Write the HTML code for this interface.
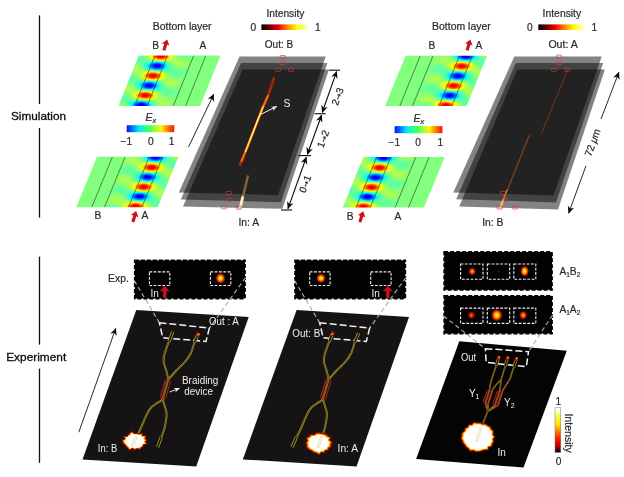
<!DOCTYPE html>
<html><head><meta charset="utf-8"><title>Figure</title>
<style>
html,body{margin:0;padding:0;background:#fff;}
body{width:624px;height:477px;overflow:hidden;}
svg{display:block;font-family:"Liberation Sans",Arial,sans-serif;}
.t{fill:#2a2a2a;stroke:#2a2a2a;stroke-width:0.2px;}
.w{fill:#eeeeee;}
.k{fill:#0a0a0a;stroke:#0a0a0a;stroke-width:0.3px;}
</style></head><body>
<svg width="624" height="477" viewBox="0 0 624 477">
<defs>
<filter id="jet" x="0" y="0" width="1" height="1" color-interpolation-filters="sRGB">
<feComponentTransfer>
<feFuncR type="table" tableValues="0 0 0 0 0.5 1 1 1 0.5"/>
<feFuncG type="table" tableValues="0 0 0.5 1 1 1 0.5 0 0"/>
<feFuncB type="table" tableValues="0.5 1 1 1 0.5 0 0 0 0"/>
</feComponentTransfer>
</filter>
<filter id="b2" x="-1" y="-1" width="3" height="3" color-interpolation-filters="sRGB"><feGaussianBlur stdDeviation="2.3 1.55"/></filter>
<filter id="b4" x="-1" y="-1" width="3" height="3" color-interpolation-filters="sRGB"><feGaussianBlur stdDeviation="4 2.2"/></filter>
<filter id="bs" x="-2" y="-2" width="5" height="5"><feGaussianBlur stdDeviation="0.5"/></filter>
<filter id="bs2" x="-2" y="-2" width="5" height="5"><feGaussianBlur stdDeviation="1.4"/></filter>
<filter id="soft" x="-0.02" y="-0.02" width="1.04" height="1.04"><feGaussianBlur stdDeviation="0.35"/></filter>
<filter id="rough" x="-0.3" y="-0.3" width="1.6" height="1.6"><feTurbulence type="fractalNoise" baseFrequency="0.35" numOctaves="2" seed="3" result="n"/><feDisplacementMap in="SourceGraphic" in2="n" scale="5" xChannelSelector="R" yChannelSelector="G"/></filter>
<linearGradient id="gjet" x1="0" x2="1" y1="0" y2="0">
<stop offset="0" stop-color="#0018f0"/><stop offset="0.1" stop-color="#0060ff"/><stop offset="0.24" stop-color="#00e0ff"/><stop offset="0.37" stop-color="#20ffa0"/><stop offset="0.5" stop-color="#50ff58"/><stop offset="0.62" stop-color="#a8ff30"/><stop offset="0.73" stop-color="#fff000"/><stop offset="0.86" stop-color="#ff8000"/><stop offset="1" stop-color="#f81000"/>
</linearGradient>
<linearGradient id="ghot" x1="0" x2="1" y1="0" y2="0">
<stop offset="0" stop-color="#000"/><stop offset="0.12" stop-color="#500000"/><stop offset="0.36" stop-color="#f00000"/><stop offset="0.55" stop-color="#ff8800"/><stop offset="0.75" stop-color="#ffff00"/><stop offset="0.9" stop-color="#ffff90"/><stop offset="1" stop-color="#fff"/>
</linearGradient>
<linearGradient id="ghotv" x1="0" x2="0" y1="1" y2="0">
<stop offset="0" stop-color="#000"/><stop offset="0.05" stop-color="#400000"/><stop offset="0.15" stop-color="#c00000"/><stop offset="0.3" stop-color="#ff1000"/><stop offset="0.48" stop-color="#ff8000"/><stop offset="0.62" stop-color="#ffe000"/><stop offset="0.84" stop-color="#ffff40"/><stop offset="0.94" stop-color="#fff"/>
</linearGradient>
<radialGradient id="spotY"><stop offset="0" stop-color="#ffff80"/><stop offset="0.3" stop-color="#ffd000"/><stop offset="0.6" stop-color="#f04000"/><stop offset="0.85" stop-color="#700000"/><stop offset="1" stop-color="#000" stop-opacity="0"/></radialGradient>
<radialGradient id="spotO"><stop offset="0" stop-color="#ffc020"/><stop offset="0.35" stop-color="#f06000"/><stop offset="0.7" stop-color="#a00000"/><stop offset="1" stop-color="#000" stop-opacity="0"/></radialGradient>
<radialGradient id="spotR"><stop offset="0" stop-color="#ff7010"/><stop offset="0.4" stop-color="#d02000"/><stop offset="0.75" stop-color="#700000"/><stop offset="1" stop-color="#000" stop-opacity="0"/></radialGradient>
<radialGradient id="spotD"><stop offset="0" stop-color="#701000"/><stop offset="1" stop-color="#000" stop-opacity="0"/></radialGradient>
<radialGradient id="blob"><stop offset="0" stop-color="#fff"/><stop offset="0.55" stop-color="#fff"/><stop offset="0.68" stop-color="#ffff60"/><stop offset="0.8" stop-color="#ffb000"/><stop offset="0.9" stop-color="#e02000"/><stop offset="1" stop-color="#500000"/></radialGradient>
<marker id="ak" viewBox="0 0 10 10" refX="9" refY="5" markerWidth="8.5" markerHeight="7.5" markerUnits="userSpaceOnUse" orient="auto-start-reverse"><path d="M0,0.5 L10,5 L0,9.5 L3,5 z" fill="#0a0a0a"/></marker>
<marker id="aw" viewBox="0 0 10 10" refX="9" refY="5" markerWidth="6" markerHeight="6" markerUnits="userSpaceOnUse" orient="auto"><path d="M0,1 L10,5 L0,9 L3,5 z" fill="#f2f2f2"/></marker>
</defs>
<rect width="624" height="477" fill="#fff"/>

<g stroke="#111" stroke-width="1.3">
<line x1="39.5" y1="15.4" x2="39.5" y2="104"/><line x1="39.5" y1="128" x2="39.5" y2="217.6"/>
<line x1="39.5" y1="256.6" x2="39.5" y2="344.6"/><line x1="39.5" y1="368.6" x2="39.5" y2="462.8"/>
</g>
<text class="k" x="11" y="119.8" textLength="55" lengthAdjust="spacingAndGlyphs" font-size="11.8">Simulation</text>
<text class="k" x="6.2" y="360.8" textLength="60" lengthAdjust="spacingAndGlyphs" font-size="11.8">Experiment</text>
<text class="t" x="152.8" y="29.6" textLength="58.8" lengthAdjust="spacingAndGlyphs" font-size="10.2">Bottom layer</text>
<text class="t" x="152.2" y="48.6" font-size="10.2">B</text>
<path transform="translate(165.5,45) rotate(17) scale(1.0)" d="M0,-5.8 L4,-0.4 L1.6,-0.9 L1.6,5.6 L-1.6,5.6 L-1.6,-0.9 L-4,-0.4 Z" fill="#c8141a"/>
<text class="t" x="199.4" y="48.6" font-size="10.2">A</text>
<clipPath id="cp1"><polygon points="138.8,55.5 220.5,55.5 200.1,106.0 118.4,106.0"/></clipPath>
<g clip-path="url(#cp1)"><g filter="url(#jet)">
<rect x="113.4" y="50.5" width="112.1" height="60.5" fill="#808080"/>
<g filter="url(#b4)">
<ellipse cx="160.9" cy="56.3" rx="11.5" ry="3.4" fill="#c4c4c4"/>
<ellipse cx="138.9" cy="59.3" rx="8" ry="4" fill="#747474"/>
<ellipse cx="182.9" cy="53.3" rx="8" ry="4" fill="#747474"/>
<ellipse cx="157.0" cy="66.0" rx="11.5" ry="3.4" fill="#3c3c3c"/>
<ellipse cx="135.0" cy="69.0" rx="8" ry="4" fill="#8e8e8e"/>
<ellipse cx="179.0" cy="63.0" rx="8" ry="4" fill="#8e8e8e"/>
<ellipse cx="153.0" cy="75.8" rx="11.5" ry="3.4" fill="#c4c4c4"/>
<ellipse cx="131.0" cy="78.8" rx="8" ry="4" fill="#747474"/>
<ellipse cx="175.0" cy="72.8" rx="8" ry="4" fill="#747474"/>
<ellipse cx="149.1" cy="85.5" rx="11.5" ry="3.4" fill="#3c3c3c"/>
<ellipse cx="127.1" cy="88.5" rx="8" ry="4" fill="#8e8e8e"/>
<ellipse cx="171.1" cy="82.5" rx="8" ry="4" fill="#8e8e8e"/>
<ellipse cx="145.2" cy="95.3" rx="11.5" ry="3.4" fill="#c4c4c4"/>
<ellipse cx="123.2" cy="98.3" rx="8" ry="4" fill="#747474"/>
<ellipse cx="167.2" cy="92.3" rx="8" ry="4" fill="#747474"/>
<ellipse cx="141.2" cy="105.0" rx="11.5" ry="3.4" fill="#3c3c3c"/>
<ellipse cx="119.2" cy="108.0" rx="8" ry="4" fill="#8e8e8e"/>
<ellipse cx="163.2" cy="102.0" rx="8" ry="4" fill="#8e8e8e"/>
</g>
<g filter="url(#b2)">
<ellipse cx="160.9" cy="56.3" rx="6" ry="2.8" fill="#e8e8e8"/>
<ellipse cx="157.0" cy="66.0" rx="6" ry="2.8" fill="#181818"/>
<ellipse cx="153.0" cy="75.8" rx="6" ry="2.8" fill="#e8e8e8"/>
<ellipse cx="149.1" cy="85.5" rx="6" ry="2.8" fill="#181818"/>
<ellipse cx="145.2" cy="95.3" rx="6" ry="2.8" fill="#e8e8e8"/>
<ellipse cx="141.2" cy="105.0" rx="6" ry="2.8" fill="#181818"/>
</g>
</g>
<g stroke="#1a2a1a" stroke-width="0.65" opacity="0.85">
<line x1="155" y1="55.5" x2="134.6" y2="106.0"/>
<line x1="167.5" y1="55.5" x2="147.1" y2="106.0"/>
<line x1="193.7" y1="55.5" x2="173.29999999999998" y2="106.0"/>
<line x1="205.9" y1="55.5" x2="185.5" y2="106.0"/>
</g></g>
<text class="t" x="145.6" y="121.4" font-style="italic" font-size="10.5">E<tspan font-size="7.5" dy="2">x</tspan></text>
<rect x="126.7" y="125.2" width="47.5" height="7" fill="url(#gjet)"/>
<text class="t" x="120.6" y="145.4" font-size="10.2">−1</text><text class="t" x="148" y="145.4" font-size="10.2">0</text><text class="t" x="168.8" y="145.4" font-size="10.2">1</text>
<clipPath id="cp2"><polygon points="97,156.8 178.5,156.8 157.7,207.3 76.2,207.3"/></clipPath>
<g clip-path="url(#cp2)"><g filter="url(#jet)">
<rect x="71.2" y="151.8" width="112.3" height="60.5" fill="#808080"/>
<g filter="url(#b4)">
<ellipse cx="155.6" cy="157.6" rx="11.5" ry="3.4" fill="#3c3c3c"/>
<ellipse cx="133.6" cy="160.6" rx="8" ry="4" fill="#8e8e8e"/>
<ellipse cx="177.6" cy="154.6" rx="8" ry="4" fill="#8e8e8e"/>
<ellipse cx="151.6" cy="167.4" rx="11.5" ry="3.4" fill="#c4c4c4"/>
<ellipse cx="129.6" cy="170.4" rx="8" ry="4" fill="#747474"/>
<ellipse cx="173.6" cy="164.4" rx="8" ry="4" fill="#747474"/>
<ellipse cx="147.6" cy="177.1" rx="11.5" ry="3.4" fill="#3c3c3c"/>
<ellipse cx="125.6" cy="180.1" rx="8" ry="4" fill="#8e8e8e"/>
<ellipse cx="169.6" cy="174.1" rx="8" ry="4" fill="#8e8e8e"/>
<ellipse cx="143.6" cy="186.9" rx="11.5" ry="3.4" fill="#c4c4c4"/>
<ellipse cx="121.6" cy="189.9" rx="8" ry="4" fill="#747474"/>
<ellipse cx="165.6" cy="183.9" rx="8" ry="4" fill="#747474"/>
<ellipse cx="139.6" cy="196.6" rx="11.5" ry="3.4" fill="#3c3c3c"/>
<ellipse cx="117.6" cy="199.6" rx="8" ry="4" fill="#8e8e8e"/>
<ellipse cx="161.6" cy="193.6" rx="8" ry="4" fill="#8e8e8e"/>
<ellipse cx="135.5" cy="206.4" rx="11.5" ry="3.4" fill="#c4c4c4"/>
<ellipse cx="113.5" cy="209.4" rx="8" ry="4" fill="#747474"/>
<ellipse cx="157.5" cy="203.4" rx="8" ry="4" fill="#747474"/>
</g>
<g filter="url(#b2)">
<ellipse cx="155.6" cy="157.6" rx="6" ry="2.8" fill="#181818"/>
<ellipse cx="151.6" cy="167.4" rx="6" ry="2.8" fill="#e8e8e8"/>
<ellipse cx="147.6" cy="177.1" rx="6" ry="2.8" fill="#181818"/>
<ellipse cx="143.6" cy="186.9" rx="6" ry="2.8" fill="#e8e8e8"/>
<ellipse cx="139.6" cy="196.6" rx="6" ry="2.8" fill="#181818"/>
<ellipse cx="135.5" cy="206.4" rx="6" ry="2.8" fill="#e8e8e8"/>
</g>
</g>
<g stroke="#1a2a1a" stroke-width="0.65" opacity="0.85">
<line x1="149.3" y1="156.8" x2="128.5" y2="207.3"/>
<line x1="162.6" y1="156.8" x2="141.79999999999998" y2="207.3"/>
<line x1="112.5" y1="156.8" x2="91.7" y2="207.3"/>
<line x1="125.2" y1="156.8" x2="104.4" y2="207.3"/>
</g></g>
<text class="t" x="94.4" y="219.4" font-size="10.2">B</text>
<path transform="translate(134.5,216.6) rotate(17) scale(1.0)" d="M0,-5.8 L4,-0.4 L1.6,-0.9 L1.6,5.6 L-1.6,5.6 L-1.6,-0.9 L-4,-0.4 Z" fill="#c8141a"/>
<text class="t" x="141.6" y="219.4" font-size="10.2">A</text>
<line x1="188.5" y1="147" x2="213.7" y2="94.5" stroke="#111" stroke-width="0.9" marker-end="url(#ak)"/>
<polygon points="239.5,56.5 325.7,56.5 278,195.2 178.8,192.4" fill="#000" fill-opacity="0.485"/>
<polygon points="241,63 327.4,63 280.8,202.2 180.8,199.4" fill="#000" fill-opacity="0.485"/>
<polygon points="242.6,69.6 329,69.6 282.4,208.8 183,206.5" fill="#000" fill-opacity="0.485"/>
<g filter="url(#bs)" stroke-linecap="round" fill="none">
<path d="M240,165 L247.8,146 L263,107 L269,93 L273.8,78.5" stroke="#a82408" stroke-width="2.7"/>
<path d="M241.5,161 L247.8,146 L263,107 L268,96" stroke="#f06a10" stroke-width="2.1"/>
<path d="M245.5,151.5 L263,106.5" stroke="#ffd84a" stroke-width="1.6"/>
<path d="M250,140 L259,117" stroke="#fff3a0" stroke-width="0.9"/>
<path d="M240.2,208.3 L247.8,176.4" stroke="#b08a50" stroke-width="2.4" opacity="0.65"/>
<path d="M240,208.6 L242.6,197.5" stroke="#fff0b0" stroke-width="2.8"/>
</g>
<g fill="none" stroke="#d83a3a" stroke-width="0.7">
<rect x="280.2" y="55.5" width="5.2" height="3" rx="0.8"/>
<rect x="280.2" y="61.7" width="5.2" height="3" rx="0.8"/>
<rect x="275.4" y="68.3" width="5.2" height="3" rx="0.8"/>
<rect x="288.4" y="68.3" width="5.2" height="3" rx="0.8"/>
<rect x="226.0" y="191.5" width="5.2" height="3" rx="0.8"/>
<rect x="227.0" y="198.5" width="5.2" height="3" rx="0.8"/>
<rect x="221.4" y="205.9" width="5.2" height="3" rx="0.8"/>
<rect x="236.1" y="206.1" width="5.2" height="3" rx="0.8"/>
</g>
<line x1="259.5" y1="115" x2="276.7" y2="106.4" stroke="#f2f2f2" stroke-width="1" marker-end="url(#aw)"/>
<text class="w" x="283.4" y="106.6" font-size="10.4">S</text>
<g stroke="#0a0a0a" stroke-width="1.1" fill="none">
<line x1="329" y1="70.2" x2="340" y2="70.2"/><line x1="314.6" y1="113.7" x2="325.6" y2="113.7"/><line x1="298.5" y1="155.6" x2="311" y2="155.6"/><line x1="281" y1="210" x2="292" y2="210"/>
<line x1="336.6" y1="71.6" x2="322.3" y2="112.3" marker-start="url(#ak)" marker-end="url(#ak)"/>
<line x1="321.5" y1="115.2" x2="307.4" y2="154.2" marker-start="url(#ak)" marker-end="url(#ak)"/>
<line x1="306.3" y1="157.2" x2="288" y2="208.6" marker-start="url(#ak)" marker-end="url(#ak)"/>
</g>
<text class="t" font-size="10" text-anchor="middle" transform="translate(337.5,96.5) rotate(-70)" x="0" y="3.5">2<tspan font-family="DejaVu Sans" font-size="8">→</tspan>3</text>
<text class="t" font-size="10" text-anchor="middle" transform="translate(323,139) rotate(-70)" x="0" y="3.5">1<tspan font-family="DejaVu Sans" font-size="8">→</tspan>2</text>
<text class="t" font-size="10" text-anchor="middle" transform="translate(305,184) rotate(-70)" x="0" y="3.5">0<tspan font-family="DejaVu Sans" font-size="8">→</tspan>1</text>
<text class="t" x="266.4" y="16.9" textLength="38" lengthAdjust="spacingAndGlyphs" font-size="10.2">Intensity</text>
<rect x="261.4" y="24.4" width="47.6" height="5.6" fill="url(#ghot)"/>
<text class="t" x="250.4" y="30.8" font-size="10.2">0</text><text class="t" x="315" y="30.8" font-size="10.2">1</text>
<text class="t" x="264.8" y="48.2" textLength="28.4" lengthAdjust="spacingAndGlyphs" font-size="10.2">Out: B</text>
<text class="t" x="238.5" y="225.6" textLength="20.6" lengthAdjust="spacingAndGlyphs" font-size="10.2">In: A</text>
<text class="t" x="432" y="29.6" textLength="58.8" lengthAdjust="spacingAndGlyphs" font-size="10.2">Bottom layer</text>
<text class="t" x="428.4" y="48.6" font-size="10.2">B</text>
<path transform="translate(468.7,45) rotate(17) scale(1.0)" d="M0,-5.8 L4,-0.4 L1.6,-0.9 L1.6,5.6 L-1.6,5.6 L-1.6,-0.9 L-4,-0.4 Z" fill="#c8141a"/>
<text class="t" x="475.6" y="48.6" font-size="10.2">A</text>
<clipPath id="cp3"><polygon points="405.6,55.7 487.1,55.7 466.6,106.0 385.1,106.0"/></clipPath>
<g clip-path="url(#cp3)"><g filter="url(#jet)">
<rect x="380.1" y="50.7" width="112.0" height="60.3" fill="#808080"/>
<g filter="url(#b4)">
<ellipse cx="465.6" cy="56.5" rx="11.5" ry="3.4" fill="#3c3c3c"/>
<ellipse cx="443.6" cy="59.5" rx="8" ry="4" fill="#8e8e8e"/>
<ellipse cx="487.6" cy="53.5" rx="8" ry="4" fill="#8e8e8e"/>
<ellipse cx="461.6" cy="66.2" rx="11.5" ry="3.4" fill="#c4c4c4"/>
<ellipse cx="439.6" cy="69.2" rx="8" ry="4" fill="#747474"/>
<ellipse cx="483.6" cy="63.2" rx="8" ry="4" fill="#747474"/>
<ellipse cx="457.6" cy="76.0" rx="11.5" ry="3.4" fill="#3c3c3c"/>
<ellipse cx="435.6" cy="79.0" rx="8" ry="4" fill="#8e8e8e"/>
<ellipse cx="479.6" cy="73.0" rx="8" ry="4" fill="#8e8e8e"/>
<ellipse cx="453.7" cy="85.8" rx="11.5" ry="3.4" fill="#c4c4c4"/>
<ellipse cx="431.7" cy="88.8" rx="8" ry="4" fill="#747474"/>
<ellipse cx="475.7" cy="82.8" rx="8" ry="4" fill="#747474"/>
<ellipse cx="449.7" cy="95.5" rx="11.5" ry="3.4" fill="#3c3c3c"/>
<ellipse cx="427.7" cy="98.5" rx="8" ry="4" fill="#8e8e8e"/>
<ellipse cx="471.7" cy="92.5" rx="8" ry="4" fill="#8e8e8e"/>
<ellipse cx="445.7" cy="105.2" rx="11.5" ry="3.4" fill="#c4c4c4"/>
<ellipse cx="423.7" cy="108.2" rx="8" ry="4" fill="#747474"/>
<ellipse cx="467.7" cy="102.2" rx="8" ry="4" fill="#747474"/>
</g>
<g filter="url(#b2)">
<ellipse cx="465.6" cy="56.5" rx="6" ry="2.8" fill="#181818"/>
<ellipse cx="461.6" cy="66.2" rx="6" ry="2.8" fill="#e8e8e8"/>
<ellipse cx="457.6" cy="76.0" rx="6" ry="2.8" fill="#181818"/>
<ellipse cx="453.7" cy="85.8" rx="6" ry="2.8" fill="#e8e8e8"/>
<ellipse cx="449.7" cy="95.5" rx="6" ry="2.8" fill="#181818"/>
<ellipse cx="445.7" cy="105.2" rx="6" ry="2.8" fill="#e8e8e8"/>
</g>
</g>
<g stroke="#1a2a1a" stroke-width="0.65" opacity="0.85">
<line x1="459.5" y1="55.7" x2="439.0" y2="106.0"/>
<line x1="472.3" y1="55.7" x2="451.8" y2="106.0"/>
<line x1="420.3" y1="55.7" x2="399.8" y2="106.0"/>
<line x1="433" y1="55.7" x2="412.5" y2="106.0"/>
</g></g>
<text class="t" x="413.5" y="121.8" font-style="italic" font-size="10.5">E<tspan font-size="7.5" dy="2">x</tspan></text>
<rect x="394.6" y="126.1" width="47.8" height="7.1" fill="url(#gjet)"/>
<text class="t" x="388.6" y="145.8" font-size="10.2">−1</text><text class="t" x="415.2" y="145.8" font-size="10.2">0</text><text class="t" x="437.4" y="145.8" font-size="10.2">1</text>
<clipPath id="cp4"><polygon points="363.4,157.1 444.7,157.1 424.0,207.6 342.7,207.6"/></clipPath>
<g clip-path="url(#cp4)"><g filter="url(#jet)">
<rect x="337.7" y="152.1" width="112.0" height="60.5" fill="#808080"/>
<g filter="url(#b4)">
<ellipse cx="383.5" cy="157.9" rx="11.5" ry="3.4" fill="#3c3c3c"/>
<ellipse cx="361.5" cy="160.9" rx="8" ry="4" fill="#8e8e8e"/>
<ellipse cx="405.5" cy="154.9" rx="8" ry="4" fill="#8e8e8e"/>
<ellipse cx="379.5" cy="167.7" rx="11.5" ry="3.4" fill="#c4c4c4"/>
<ellipse cx="357.5" cy="170.7" rx="8" ry="4" fill="#747474"/>
<ellipse cx="401.5" cy="164.7" rx="8" ry="4" fill="#747474"/>
<ellipse cx="375.5" cy="177.4" rx="11.5" ry="3.4" fill="#3c3c3c"/>
<ellipse cx="353.5" cy="180.4" rx="8" ry="4" fill="#8e8e8e"/>
<ellipse cx="397.5" cy="174.4" rx="8" ry="4" fill="#8e8e8e"/>
<ellipse cx="371.5" cy="187.2" rx="11.5" ry="3.4" fill="#c4c4c4"/>
<ellipse cx="349.5" cy="190.2" rx="8" ry="4" fill="#747474"/>
<ellipse cx="393.5" cy="184.2" rx="8" ry="4" fill="#747474"/>
<ellipse cx="367.5" cy="196.9" rx="11.5" ry="3.4" fill="#3c3c3c"/>
<ellipse cx="345.5" cy="199.9" rx="8" ry="4" fill="#8e8e8e"/>
<ellipse cx="389.5" cy="193.9" rx="8" ry="4" fill="#8e8e8e"/>
<ellipse cx="363.5" cy="206.7" rx="11.5" ry="3.4" fill="#c4c4c4"/>
<ellipse cx="341.5" cy="209.7" rx="8" ry="4" fill="#747474"/>
<ellipse cx="385.5" cy="203.7" rx="8" ry="4" fill="#747474"/>
</g>
<g filter="url(#b2)">
<ellipse cx="383.5" cy="157.9" rx="6" ry="2.8" fill="#181818"/>
<ellipse cx="379.5" cy="167.7" rx="6" ry="2.8" fill="#e8e8e8"/>
<ellipse cx="375.5" cy="177.4" rx="6" ry="2.8" fill="#181818"/>
<ellipse cx="371.5" cy="187.2" rx="6" ry="2.8" fill="#e8e8e8"/>
<ellipse cx="367.5" cy="196.9" rx="6" ry="2.8" fill="#181818"/>
<ellipse cx="363.5" cy="206.7" rx="6" ry="2.8" fill="#e8e8e8"/>
</g>
</g>
<g stroke="#1a2a1a" stroke-width="0.65" opacity="0.85">
<line x1="376.7" y1="157.1" x2="356.0" y2="207.6"/>
<line x1="390.9" y1="157.1" x2="370.2" y2="207.6"/>
<line x1="415.8" y1="157.1" x2="395.1" y2="207.6"/>
<line x1="429.1" y1="157.1" x2="408.40000000000003" y2="207.6"/>
</g></g>
<text class="t" x="346.8" y="219.5" font-size="10.2">B</text>
<path transform="translate(361.5,216.8) rotate(17) scale(1.0)" d="M0,-5.8 L4,-0.4 L1.6,-0.9 L1.6,5.6 L-1.6,5.6 L-1.6,-0.9 L-4,-0.4 Z" fill="#c8141a"/>
<text class="t" x="394.4" y="219.5" font-size="10.2">A</text>
<polygon points="514.3,56.5 601.7,56.5 553.5,195.4 453.3,192.5" fill="#000" fill-opacity="0.485"/>
<polygon points="515.8,62.9 603.2,62.9 556,202.4 456.2,199.2" fill="#000" fill-opacity="0.485"/>
<polygon points="517.3,69.4 604.9,69.4 558,209.6 459.2,206.4" fill="#000" fill-opacity="0.485"/>
<g filter="url(#bs)" stroke-linecap="round" fill="none">
<path d="M500.7,206.8 L529.2,135.5" stroke="#8a4414" stroke-width="1.3" opacity="0.9"/>
<path d="M541.3,133.7 L567.3,70.5" stroke="#7a3610" stroke-width="1.1" opacity="0.85"/>
<path d="M500.4,207.6 L503.5,199" stroke="#ffd060" stroke-width="2"/>
<path d="M503.5,199 L507,190" stroke="#e07020" stroke-width="1.6"/>
</g>
<g fill="none" stroke="#d83a3a" stroke-width="0.7">
<rect x="556.5" y="55.1" width="5.2" height="3" rx="0.8"/>
<rect x="556.5" y="61.5" width="5.2" height="3" rx="0.8"/>
<rect x="551.4" y="68.3" width="5.2" height="3" rx="0.8"/>
<rect x="564.6999999999999" y="68.3" width="5.2" height="3" rx="0.8"/>
<rect x="500.4" y="191.3" width="5.2" height="3" rx="0.8"/>
<rect x="502.4" y="198.2" width="5.2" height="3" rx="0.8"/>
<rect x="497.0" y="206.1" width="5.2" height="3" rx="0.8"/>
<rect x="512.4" y="206.1" width="5.2" height="3" rx="0.8"/>
</g>
<g stroke="#111" stroke-width="0.9" fill="none">
<line x1="601" y1="119" x2="618.8" y2="72.5" marker-end="url(#ak)"/>
<line x1="586" y1="165.8" x2="568.7" y2="213" marker-end="url(#ak)"/>
</g>
<text class="t" font-size="10.2" text-anchor="middle" transform="translate(592.6,142.5) rotate(-70)" x="0" y="3.5">72 <tspan font-style="italic">μ</tspan>m</text>
<text class="t" x="542.6" y="17.2" textLength="38.6" lengthAdjust="spacingAndGlyphs" font-size="10.2">Intensity</text>
<rect x="538.3" y="24.4" width="47.7" height="5.6" fill="url(#ghot)"/>
<text class="t" x="527" y="30.8" font-size="10.2">0</text><text class="t" x="591.4" y="30.8" font-size="10.2">1</text>
<text class="t" x="548.4" y="48" textLength="29.4" lengthAdjust="spacingAndGlyphs" font-size="10.2">Out: A</text>
<text class="t" x="482.2" y="225.6" textLength="21.2" lengthAdjust="spacingAndGlyphs" font-size="10.2">In: B</text>
<polygon points="136.3,310 248.7,316.9 196.2,466.6 82.5,459.4" fill="#151313"/>
<rect x="134.79999999999998" y="260.3" width="110.2" height="38.199999999999996" fill="#020202" stroke="#020202" stroke-width="1.8" stroke-dasharray="4 2"/>
<rect x="149.4" y="271.9" width="20.4" height="13.6" fill="none" stroke="#f0f0f0" stroke-width="1.1" stroke-dasharray="2.8 1.5"/>
<rect x="210.4" y="271.9" width="20.4" height="13.6" fill="none" stroke="#f0f0f0" stroke-width="1.1" stroke-dasharray="2.8 1.5"/>
<g stroke="#aeaeae" stroke-width="1.15" stroke-dasharray="4.5 3" fill="none">
<line x1="134.2" y1="280.5" x2="159.4" y2="322.8"/>
<line x1="245.6" y1="277.5" x2="209.4" y2="328"/>
</g>
<polygon points="159.4,322.8 209.4,328 206,341.4 162.8,337.8" fill="none" stroke="#f4f4f4" stroke-width="1.5" stroke-dasharray="7 3"/>
<g transform="translate(0,0)" fill="none" stroke-linecap="butt" stroke-linejoin="round">
<path d="M132.4,446.0 C133.0,444.7 134.7,440.8 136.0,438.0 C137.3,435.2 138.2,433.8 140.4,429.0 C142.6,424.2 146.5,413.9 149.4,409.5 C152.3,405.1 155.8,404.3 158.0,402.5 C160.2,400.7 160.9,402.4 162.6,398.5 C164.3,394.6 167.4,382.2 168.3,379.0 M158.4,446.0 C158.9,444.5 160.4,440.1 161.5,437.0 C162.6,433.9 163.8,431.3 164.7,427.5 C165.5,423.7 166.6,417.6 166.6,414.0 C166.6,410.4 165.3,408.6 164.6,406.0 C163.9,403.4 162.9,399.8 162.6,398.5 M168.3,379.0 C168.0,377.7 167.2,373.9 166.4,371.0 C165.6,368.1 163.9,364.3 163.6,361.5 C163.3,358.7 163.6,357.4 164.5,354.0 C165.4,350.6 167.8,344.4 169.2,340.8 C170.5,337.2 172.0,333.6 172.6,332.2 M168.3,379.0 C168.7,378.7 169.2,378.3 170.4,377.0 C171.7,375.7 173.3,373.6 175.8,371.0 C178.3,368.4 182.8,364.5 185.3,361.5 C187.8,358.5 189.4,356.3 191.0,353.0 C192.6,349.7 193.5,344.9 194.7,341.7 C195.9,338.5 197.6,335.0 198.2,333.6" stroke="#ac982c" stroke-width="1.9"/>
<path d="M132.4,446.0 C133.0,444.7 134.7,440.8 136.0,438.0 C137.3,435.2 138.2,433.8 140.4,429.0 C142.6,424.2 146.5,413.9 149.4,409.5 C152.3,405.1 155.8,404.3 158.0,402.5 C160.2,400.7 160.9,402.4 162.6,398.5 C164.3,394.6 167.4,382.2 168.3,379.0 M158.4,446.0 C158.9,444.5 160.4,440.1 161.5,437.0 C162.6,433.9 163.8,431.3 164.7,427.5 C165.5,423.7 166.6,417.6 166.6,414.0 C166.6,410.4 165.3,408.6 164.6,406.0 C163.9,403.4 162.9,399.8 162.6,398.5 M168.3,379.0 C168.0,377.7 167.2,373.9 166.4,371.0 C165.6,368.1 163.9,364.3 163.6,361.5 C163.3,358.7 163.6,357.4 164.5,354.0 C165.4,350.6 167.8,344.4 169.2,340.8 C170.5,337.2 172.0,333.6 172.6,332.2 M168.3,379.0 C168.7,378.7 169.2,378.3 170.4,377.0 C171.7,375.7 173.3,373.6 175.8,371.0 C178.3,368.4 182.8,364.5 185.3,361.5 C187.8,358.5 189.4,356.3 191.0,353.0 C192.6,349.7 193.5,344.9 194.7,341.7 C195.9,338.5 197.6,335.0 198.2,333.6" stroke="#2a2410" stroke-width="0.6"/>
<path d="M131.8,447.2 L136.2,436.8 M157.6,447.2 L161.2,437 M169,341.4 L172.8,331.8 M194.6,342.2 L198.4,333.2" stroke="#ac982c" stroke-width="3.2"/>
<path d="M131.8,447.2 L136.2,436.8 M157.6,447.2 L161.2,437 M169,341.4 L172.8,331.8 M194.6,342.2 L198.4,333.2" stroke="#1a1712" stroke-width="1.6"/>
</g>
<g transform="translate(165.4,389.2) rotate(16)"><rect x="-2.7" y="-10.2" width="5.4" height="20.4" rx="1.5" fill="none" stroke="#c82020" stroke-width="0.8"/><path d="M-2.6,-7 H0 M-2.6,-5 H0 M-2.6,-3 H0 M-2.6,-1 H0 M-2.6,1 H0 M-2.6,3 H0 M-2.6,5 H0 M-2.6,7 H0" stroke="#c82020" stroke-width="0.7"/></g>
<polygon points="296.6,310 409.0,316.9 356.5,466.6 242.8,459.4" fill="#151313"/>
<rect x="295.1" y="260.3" width="110.2" height="38.199999999999996" fill="#020202" stroke="#020202" stroke-width="1.8" stroke-dasharray="4 2"/>
<rect x="309.70000000000005" y="271.9" width="20.4" height="13.6" fill="none" stroke="#f0f0f0" stroke-width="1.1" stroke-dasharray="2.8 1.5"/>
<rect x="370.70000000000005" y="271.9" width="20.4" height="13.6" fill="none" stroke="#f0f0f0" stroke-width="1.1" stroke-dasharray="2.8 1.5"/>
<g stroke="#aeaeae" stroke-width="1.15" stroke-dasharray="4.5 3" fill="none">
<line x1="294.5" y1="280.5" x2="319.70000000000005" y2="322.8"/>
<line x1="405.9" y1="277.5" x2="369.70000000000005" y2="328"/>
</g>
<polygon points="319.70000000000005,322.8 369.70000000000005,328 366.3,341.4 323.1,337.8" fill="none" stroke="#f4f4f4" stroke-width="1.5" stroke-dasharray="7 3"/>
<g transform="translate(160.3,0)" fill="none" stroke-linecap="butt" stroke-linejoin="round">
<path d="M132.4,446.0 C133.0,444.7 134.7,440.8 136.0,438.0 C137.3,435.2 138.2,433.8 140.4,429.0 C142.6,424.2 146.5,413.9 149.4,409.5 C152.3,405.1 155.8,404.3 158.0,402.5 C160.2,400.7 160.9,402.4 162.6,398.5 C164.3,394.6 167.4,382.2 168.3,379.0 M158.4,446.0 C158.9,444.5 160.4,440.1 161.5,437.0 C162.6,433.9 163.8,431.3 164.7,427.5 C165.5,423.7 166.6,417.6 166.6,414.0 C166.6,410.4 165.3,408.6 164.6,406.0 C163.9,403.4 162.9,399.8 162.6,398.5 M168.3,379.0 C168.0,377.7 167.2,373.9 166.4,371.0 C165.6,368.1 163.9,364.3 163.6,361.5 C163.3,358.7 163.6,357.4 164.5,354.0 C165.4,350.6 167.8,344.4 169.2,340.8 C170.5,337.2 172.0,333.6 172.6,332.2 M168.3,379.0 C168.7,378.7 169.2,378.3 170.4,377.0 C171.7,375.7 173.3,373.6 175.8,371.0 C178.3,368.4 182.8,364.5 185.3,361.5 C187.8,358.5 189.4,356.3 191.0,353.0 C192.6,349.7 193.5,344.9 194.7,341.7 C195.9,338.5 197.6,335.0 198.2,333.6" stroke="#ac982c" stroke-width="1.9"/>
<path d="M132.4,446.0 C133.0,444.7 134.7,440.8 136.0,438.0 C137.3,435.2 138.2,433.8 140.4,429.0 C142.6,424.2 146.5,413.9 149.4,409.5 C152.3,405.1 155.8,404.3 158.0,402.5 C160.2,400.7 160.9,402.4 162.6,398.5 C164.3,394.6 167.4,382.2 168.3,379.0 M158.4,446.0 C158.9,444.5 160.4,440.1 161.5,437.0 C162.6,433.9 163.8,431.3 164.7,427.5 C165.5,423.7 166.6,417.6 166.6,414.0 C166.6,410.4 165.3,408.6 164.6,406.0 C163.9,403.4 162.9,399.8 162.6,398.5 M168.3,379.0 C168.0,377.7 167.2,373.9 166.4,371.0 C165.6,368.1 163.9,364.3 163.6,361.5 C163.3,358.7 163.6,357.4 164.5,354.0 C165.4,350.6 167.8,344.4 169.2,340.8 C170.5,337.2 172.0,333.6 172.6,332.2 M168.3,379.0 C168.7,378.7 169.2,378.3 170.4,377.0 C171.7,375.7 173.3,373.6 175.8,371.0 C178.3,368.4 182.8,364.5 185.3,361.5 C187.8,358.5 189.4,356.3 191.0,353.0 C192.6,349.7 193.5,344.9 194.7,341.7 C195.9,338.5 197.6,335.0 198.2,333.6" stroke="#2a2410" stroke-width="0.6"/>
<path d="M131.8,447.2 L136.2,436.8 M157.6,447.2 L161.2,437 M169,341.4 L172.8,331.8 M194.6,342.2 L198.4,333.2" stroke="#ac982c" stroke-width="3.2"/>
<path d="M131.8,447.2 L136.2,436.8 M157.6,447.2 L161.2,437 M169,341.4 L172.8,331.8 M194.6,342.2 L198.4,333.2" stroke="#1a1712" stroke-width="1.6"/>
</g>
<g transform="translate(325.70000000000005,389.2) rotate(16)"><rect x="-2.7" y="-10.2" width="5.4" height="20.4" rx="1.5" fill="none" stroke="#c82020" stroke-width="0.8"/><path d="M-2.6,-7 H0 M-2.6,-5 H0 M-2.6,-3 H0 M-2.6,-1 H0 M-2.6,1 H0 M-2.6,3 H0 M-2.6,5 H0 M-2.6,7 H0" stroke="#c82020" stroke-width="0.7"/></g>
<ellipse cx="220.5" cy="278.3" rx="5.2" ry="5.6" fill="url(#spotY)"/>
<text class="w" x="150.4" y="297.4" font-size="10">In</text>
<path transform="translate(164.7,291.9) rotate(0) scale(1.04)" d="M0,-5.8 L4.9,-0.4 L1.6,-0.9 L1.6,5.6 L-1.6,5.6 L-1.6,-0.9 L-4.9,-0.4 Z" fill="#c8141a"/>
<text class="t" x="108" y="282.4" textLength="20.8" lengthAdjust="spacingAndGlyphs" font-size="10.2">Exp.</text>
<text class="w" x="209" y="325.4" textLength="29.8" lengthAdjust="spacingAndGlyphs" font-size="10">Out : A</text>
<text class="w" x="182" y="383.6" textLength="36.4" lengthAdjust="spacingAndGlyphs" font-size="10">Braiding</text>
<text class="w" x="184.3" y="394.7" textLength="28.6" lengthAdjust="spacingAndGlyphs" font-size="10">device</text>
<line x1="169.6" y1="392" x2="179.5" y2="388.3" stroke="#f2f2f2" stroke-width="0.9" marker-end="url(#aw)"/>
<text class="w" x="97.8" y="452" textLength="19.4" lengthAdjust="spacingAndGlyphs" font-size="10">In: B</text>
<g filter="url(#soft)">
<polygon points="148.1,443.9 143.2,444.5 143.7,446.7 141.6,447.9 140.2,449.5 137.6,448.9 134.3,450.1 132.6,448.3 128.8,450.6 127.8,448.7 125.7,446.6 124.9,445.0 123.5,444.3 122.3,442.4 121.7,440.1 125.0,438.9 123.0,436.0 127.4,436.7 128.1,434.4 129.6,433.0 131.1,431.1 134.5,433.4 137.2,433.3 139.4,433.9 142.5,433.1 142.8,435.8 146.6,435.4 145.6,438.2 147.5,440.4 145.4,441.8" fill="#c81400" stroke="#700800" stroke-width="0.8" stroke-linejoin="round"/>
<polygon points="146.8,443.7 142.4,444.1 142.8,446.1 140.9,447.2 139.7,448.7 137.3,448.1 134.4,449.2 132.8,447.5 129.4,449.6 128.5,447.9 126.6,446.0 125.9,444.7 124.7,444.0 123.5,442.3 123.0,440.2 125.9,439.1 124.1,436.5 128.2,437.2 128.8,435.1 130.1,433.9 131.5,432.1 134.6,434.2 137.0,434.1 138.9,434.6 141.7,433.9 142.0,436.3 145.4,436.0 144.5,438.5 146.2,440.5 144.3,441.8" fill="#ff9a00"/>
<polygon points="145.7,443.4 141.7,443.9 142.1,445.7 140.3,446.7 139.2,448.0 137.0,447.5 134.4,448.5 133.0,447.0 129.9,448.9 129.1,447.3 127.3,445.6 126.6,444.3 125.5,443.7 124.5,442.2 124.0,440.3 126.7,439.3 125.1,436.9 128.7,437.5 129.3,435.7 130.5,434.5 131.7,432.9 134.6,434.8 136.7,434.7 138.5,435.2 141.1,434.5 141.3,436.8 144.4,436.5 143.6,438.8 145.2,440.5 143.5,441.7" fill="#ffee50"/>
<polygon points="144.7,443.2 141.1,443.7 141.5,445.3 139.8,446.2 138.8,447.4 136.8,447.0 134.4,447.8 133.1,446.5 130.3,448.2 129.5,446.8 127.9,445.2 127.3,444.1 126.3,443.5 125.4,442.1 125.0,440.4 127.4,439.5 125.9,437.3 129.2,437.9 129.7,436.1 130.9,435.1 132.0,433.6 134.6,435.4 136.6,435.3 138.2,435.7 140.5,435.1 140.8,437.1 143.6,436.9 142.8,439.0 144.3,440.6 142.7,441.7" fill="#ffffff"/>
<ellipse cx="134.6" cy="441.2" rx="9.57" ry="6.930000000000001" fill="#fff"/>
</g>
<path d="M131,446.9 L135.3,436.4 L137.1,437.1 L133,447.6 Z" fill="none" stroke="#cdbd58" stroke-width="0.5"/>
<ellipse cx="198.4" cy="334.4" rx="2.4" ry="2.4" fill="url(#spotO)"/>
<line x1="78.8" y1="432.2" x2="115.7" y2="328.6" stroke="#111" stroke-width="0.9" marker-end="url(#ak)"/>
<ellipse cx="321" cy="278.3" rx="5" ry="5" fill="url(#spotY)"/>
<text class="w" x="371.6" y="297.2" font-size="10">In</text>
<path transform="translate(387.8,291.9) rotate(0) scale(1.04)" d="M0,-5.8 L4.9,-0.4 L1.6,-0.9 L1.6,5.6 L-1.6,5.6 L-1.6,-0.9 L-4.9,-0.4 Z" fill="#c8141a"/>
<text class="w" x="292.3" y="337.2" textLength="28" lengthAdjust="spacingAndGlyphs" font-size="10">Out: B</text>
<text class="w" x="337.6" y="452.2" textLength="20.4" lengthAdjust="spacingAndGlyphs" font-size="10">In: A</text>
<g filter="url(#soft)">
<polygon points="331.2,447.0 329.0,448.3 328.7,450.0 325.3,451.1 324.2,453.0 321.2,452.6 319.5,455.1 315.8,453.2 313.6,452.7 311.4,451.1 309.2,450.0 307.7,448.9 306.0,447.0 306.1,444.8 305.4,442.6 307.0,440.7 306.0,437.6 309.2,436.1 309.9,434.3 314.1,434.4 315.7,432.8 318.4,432.5 321.7,432.8 323.9,433.3 326.2,434.1 328.4,435.8 331.4,437.3 329.7,439.7 332.8,442.4 331.7,443.6" fill="#c81400" stroke="#700800" stroke-width="0.8" stroke-linejoin="round"/>
<polygon points="330.0,446.6 328.0,447.8 327.7,449.4 324.6,450.3 323.7,452.0 320.9,451.7 319.4,453.9 316.1,452.2 314.1,451.7 312.1,450.3 310.1,449.3 308.8,448.4 307.3,446.6 307.4,444.7 306.8,442.7 308.1,440.9 307.3,438.1 310.2,436.8 310.8,435.2 314.6,435.3 316.0,433.8 318.4,433.5 321.4,433.9 323.4,434.3 325.5,435.0 327.4,436.6 330.1,437.9 328.6,440.0 331.4,442.5 330.4,443.6" fill="#ff9a00"/>
<polygon points="329.0,446.3 327.1,447.4 326.9,448.8 324.1,449.7 323.2,451.2 320.7,450.9 319.3,453.0 316.4,451.4 314.5,451.0 312.7,449.7 310.9,448.8 309.7,447.9 308.3,446.3 308.4,444.5 307.8,442.7 309.1,441.1 308.3,438.6 310.9,437.4 311.5,435.9 315.0,436.0 316.3,434.7 318.4,434.4 321.2,434.7 323.0,435.1 324.9,435.8 326.6,437.2 329.1,438.3 327.7,440.3 330.3,442.5 329.4,443.6" fill="#ffee50"/>
<polygon points="328.1,446.0 326.4,447.1 326.2,448.3 323.7,449.1 322.9,450.5 320.6,450.2 319.3,452.2 316.6,450.7 314.9,450.3 313.2,449.1 311.6,448.3 310.5,447.5 309.2,446.0 309.3,444.4 308.8,442.8 309.9,441.3 309.2,439.0 311.6,437.9 312.1,436.6 315.3,436.6 316.5,435.4 318.5,435.1 321.0,435.4 322.6,435.8 324.4,436.4 326.0,437.7 328.3,438.8 327.0,440.5 329.3,442.6 328.5,443.5" fill="#ffffff"/>
<ellipse cx="318.8" cy="443.2" rx="9.57" ry="7.92" fill="#fff"/>
</g>
<path d="M317,446.9 L320.7,436.6 L322.5,437.2 L319,447.6 Z" fill="none" stroke="#cdbd58" stroke-width="0.5"/>
<ellipse cx="332.3" cy="334" rx="2.4" ry="2.4" fill="url(#spotO)"/>
<polygon points="459.3,341.3 566.8,350.7 523.5,467.6 416.1,459.1" fill="#040404"/>
<rect x="444.20000000000005" y="252.0" width="107.8" height="37.8" fill="#020202" stroke="#020202" stroke-width="1.8" stroke-dasharray="4 2"/>
<rect x="444.20000000000005" y="295.90000000000003" width="107.8" height="37.599999999999994" fill="#020202" stroke="#020202" stroke-width="1.8" stroke-dasharray="4 2"/>
<rect x="460.6" y="264" width="22.4" height="15.3" fill="none" stroke="#f0f0f0" stroke-width="1.1" stroke-dasharray="2.8 1.5"/>
<rect x="487.3" y="264" width="22.4" height="15.3" fill="none" stroke="#f0f0f0" stroke-width="1.1" stroke-dasharray="2.8 1.5"/>
<rect x="513.8" y="264" width="22" height="15.3" fill="none" stroke="#f0f0f0" stroke-width="1.1" stroke-dasharray="2.8 1.5"/>
<rect x="460.6" y="308.1" width="22.4" height="15.3" fill="none" stroke="#f0f0f0" stroke-width="1.1" stroke-dasharray="2.8 1.5"/>
<rect x="487.3" y="308.1" width="22.4" height="15.3" fill="none" stroke="#f0f0f0" stroke-width="1.1" stroke-dasharray="2.8 1.5"/>
<rect x="513.8" y="308.1" width="22" height="15.3" fill="none" stroke="#f0f0f0" stroke-width="1.1" stroke-dasharray="2.8 1.5"/>
<ellipse cx="472.2" cy="271.4" rx="4.2" ry="4.6" fill="url(#spotO)"/>
<ellipse cx="498.7" cy="271.2" rx="2.5" ry="2.5" fill="url(#spotD)"/>
<ellipse cx="524.6" cy="271.2" rx="4.6" ry="5.8" fill="url(#spotY)"/>
<ellipse cx="471.4" cy="315.2" rx="4.2" ry="4.4" fill="url(#spotR)"/>
<ellipse cx="496.8" cy="315.2" rx="6" ry="6.6" fill="url(#spotY)"/>
<ellipse cx="523.2" cy="315.2" rx="4.4" ry="5" fill="url(#spotO)"/>
<text class="t" x="559.4" y="275" font-size="10.2">A<tspan font-size="6.6" dy="2">1</tspan><tspan dy="-2">B</tspan><tspan font-size="6.6" dy="2">2</tspan></text>
<text class="t" x="559.4" y="313.2" font-size="10.2">A<tspan font-size="6.6" dy="2">1</tspan><tspan dy="-2">A</tspan><tspan font-size="6.6" dy="2">2</tspan></text>
<g stroke="#aeaeae" stroke-width="1.15" stroke-dasharray="4.5 3" fill="none">
<line x1="443.6" y1="316" x2="485.4" y2="348.7"/><line x1="552.6" y1="315" x2="528.5" y2="351.6"/>
</g>
<polygon points="485.4,348.7 528.5,351.6 526.3,366.7 486.1,362.4" fill="none" stroke="#f4f4f4" stroke-width="1.5" stroke-dasharray="7 3"/>
<g fill="none" stroke-linejoin="round">
<path d="M499,357.1 L491.8,379 C490.5,383 489.6,386 489.4,390 L485.4,403 L487.7,411.6 M507.8,357.6 L501.2,379.5 C498,383 494.5,386 492.4,390 L488.2,403.5 L487.7,411.6 M501.2,379.5 C500.6,384 500.3,387 499.8,391 L495,405 L487.7,411.6 M516.6,358.3 L510,379 C507,384 504.5,387 502.6,391 L497.8,405.5 L487.7,411.6 M487.7,411.6 L480,430.5" stroke="#bc8a28" stroke-width="1.45"/>
<path d="M499,357.1 L491.8,379 C490.5,383 489.6,386 489.4,390 L485.4,403 L487.7,411.6 M507.8,357.6 L501.2,379.5 C498,383 494.5,386 492.4,390 L488.2,403.5 L487.7,411.6 M501.2,379.5 C500.6,384 500.3,387 499.8,391 L495,405 L487.7,411.6 M516.6,358.3 L510,379 C507,384 504.5,387 502.6,391 L497.8,405.5 L487.7,411.6 M487.7,411.6 L480,430.5" stroke="#2a1c0c" stroke-width="0.5"/>
<path d="M496.2,365.6 L499.2,356.4 M505,366.2 L508,357 M513.8,367 L516.8,357.8" stroke="#b08426" stroke-width="3"/>
<path d="M496.2,365.6 L499.2,356.4 M505,366.2 L508,357 M513.8,367 L516.8,357.8" stroke="#1a1712" stroke-width="1.4"/>
</g>
<g fill="none" stroke="#c82020" stroke-width="0.8">
<g transform="translate(487.8,397) rotate(19)"><rect x="-2.8" y="-6.5" width="5.6" height="13" rx="1.3"/><path d="M-2.8,-4 H2.8 M-2.8,-2 H2.8 M-2.8,0 H2.8 M-2.8,2 H2.8 M-2.8,4 H2.8" stroke-width="0.5"/></g>
<g transform="translate(497.6,398.6) rotate(19)"><rect x="-2.8" y="-7.5" width="5.6" height="15" rx="1.3"/><path d="M-2.8,-5 H2.8 M-2.8,-3 H2.8 M-2.8,-1 H2.8 M-2.8,1 H2.8 M-2.8,3 H2.8 M-2.8,5 H2.8" stroke-width="0.5"/></g>
</g>
<ellipse cx="499" cy="357.3" rx="2.2" ry="2.2" fill="url(#spotO)"/>
<ellipse cx="507.8" cy="357.8" rx="2.2" ry="2.2" fill="url(#spotO)"/>
<ellipse cx="516.6" cy="358.5" rx="2.2" ry="2.2" fill="url(#spotO)"/>
<g filter="url(#soft)">
<polygon points="494.1,442.2 492.8,443.3 492.1,446.5 488.6,447.3 488.3,450.1 484.3,450.3 481.1,451.5 479.4,452.0 475.7,452.1 473.8,450.9 469.8,451.2 467.7,448.4 466.1,447.5 464.8,445.5 462.9,443.4 461.8,440.4 460.7,438.6 461.4,435.9 461.8,432.7 464.5,430.5 464.5,428.2 467.2,427.0 468.9,424.3 471.4,424.5 474.2,421.9 476.7,422.7 480.2,422.5 483.3,424.0 485.2,423.4 488.2,425.4 490.9,426.8 491.6,428.9 493.9,430.9 493.4,434.7 495.5,437.1 493.5,438.5" fill="#c81400" stroke="#700800" stroke-width="0.8" stroke-linejoin="round"/>
<polygon points="493.2,441.9 491.9,442.9 491.3,445.9 488.0,446.7 487.6,449.3 484.0,449.6 480.9,450.6 479.3,451.1 475.9,451.2 474.0,450.0 470.3,450.3 468.3,447.7 466.8,446.9 465.6,445.0 463.8,443.0 462.8,440.2 461.7,438.5 462.4,436.0 462.7,433.0 465.3,430.9 465.3,428.8 467.9,427.7 469.4,425.1 471.8,425.3 474.4,422.8 476.8,423.5 480.1,423.4 483.0,424.8 484.8,424.2 487.6,426.1 490.1,427.4 490.8,429.4 492.9,431.3 492.5,434.9 494.4,437.1 492.6,438.4" fill="#ff9a00"/>
<polygon points="492.3,441.6 491.2,442.6 490.6,445.5 487.4,446.2 487.1,448.7 483.6,448.9 480.7,449.9 479.2,450.4 476.0,450.4 474.3,449.4 470.7,449.6 468.8,447.2 467.4,446.4 466.2,444.6 464.6,442.7 463.6,440.1 462.6,438.5 463.2,436.0 463.6,433.2 466.0,431.2 466.0,429.2 468.4,428.2 469.9,425.7 472.1,425.9 474.6,423.6 476.9,424.3 480.0,424.1 482.7,425.4 484.4,424.9 487.0,426.7 489.4,428.0 490.1,429.8 492.1,431.6 491.7,435.0 493.6,437.1 491.8,438.3" fill="#ffee50"/>
<polygon points="491.5,441.4 490.4,442.3 489.9,445.0 486.9,445.7 486.6,448.0 483.3,448.2 480.6,449.2 479.2,449.6 476.1,449.7 474.5,448.7 471.1,448.9 469.4,446.6 468.0,445.9 466.9,444.2 465.3,442.4 464.4,439.9 463.4,438.4 464.0,436.1 464.4,433.5 466.6,431.5 466.7,429.7 468.9,428.7 470.3,426.3 472.4,426.5 474.8,424.4 476.9,425.0 479.9,424.8 482.4,426.1 484.1,425.6 486.5,427.3 488.8,428.5 489.4,430.2 491.3,431.9 491.0,435.1 492.7,437.1 491.0,438.3" fill="#ffffff"/>
<ellipse cx="478" cy="437.2" rx="13.528" ry="12.008000000000001" fill="#fff"/>
</g>
<path d="M481.5,428.5 L477.4,441.5 L475.6,441 L479.8,428 Z" fill="none" stroke="#d8c890" stroke-width="0.6"/>
<text class="w" x="461" y="361.4" textLength="15.2" lengthAdjust="spacingAndGlyphs" font-size="10">Out</text>
<text class="w" x="468.9" y="397.2" font-size="10">Y<tspan font-size="7" dy="2">1</tspan></text>
<text class="w" x="504.1" y="406.2" font-size="10">Y<tspan font-size="7" dy="2">2</tspan></text>
<text class="w" x="497.6" y="456.4" font-size="10">In</text>
<rect x="555" y="407.8" width="5.8" height="44.6" fill="url(#ghotv)" stroke="#777" stroke-width="0.5"/>
<text class="t" x="555.6" y="405" font-size="10.2">1</text><text class="t" x="555.8" y="465.4" font-size="10.2">0</text>
<text class="t" transform="translate(565,413.4) rotate(90)" x="0" y="0" textLength="39.4" lengthAdjust="spacingAndGlyphs" font-size="10.2">Intensity</text>
</svg></body></html>
